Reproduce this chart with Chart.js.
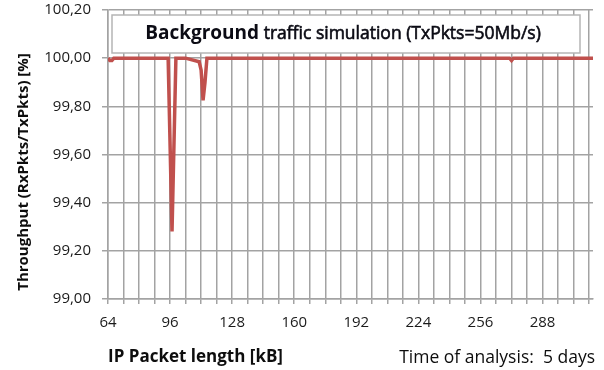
<!DOCTYPE html>
<html>
<head>
<meta charset="utf-8">
<script src="https://cdn.jsdelivr.net/npm/chart.js@4.4.1/dist/chart.umd.min.js"></script>
<style>
  html, body { margin: 0; padding: 0; background: #fff; }
  #wrap { width: 604px; height: 370px; position: relative; }
</style>
</head>
<body>
<div id="wrap"><canvas id="myChart"></canvas></div>
<script>
// packet length (kB) and throughput
var packetLen = [64, 65, 66, 67, 95, 97, 99, 104, 111, 112, 113, 114, 115, 271, 272, 273, 314];
var throughput = [100.00, 99.99, 99.99, 100.00, 100.00, 99.28, 100.00, 100.00, 99.985, 99.95, 99.825, 99.90, 100.00, 100.00, 99.99, 100.00, 100.00];

var xTickLabels = [64, 96, 128, 160, 192, 224, 256, 288];
var yTicks = [99.00, 99.20, 99.40, 99.60, 99.80, 100.00, 100.20];

var chartTitleBold = 'Background';
var chartTitleRest = ' traffic simulation (TxPkts=50Mb/s)';
var yTitle = 'Throughput (RxPkts/TxPkts) [%]';
var note = 'Time of analysis:  5 days';

var FONT = "'Open Sans', sans-serif";
var GRID = '#a3a3a3';

var points = packetLen.map(function (x, i) { return { x: x, y: throughput[i] }; });

// title box inside plot, rotated y title and the note at the bottom right
var extras = {
    id: 'extras',
    afterDraw: function (chart) {
        var ctx = chart.ctx;
        var area = chart.chartArea;
        ctx.save();
        // box
        var bx = area.left + 4, by = 15, bw = 468, bh = 38;
        ctx.fillStyle = '#fff';
        ctx.fillRect(bx, by, bw, bh);
        ctx.strokeStyle = '#b5b5b5';
        ctx.lineWidth = 1.5;
        ctx.strokeRect(bx, by, bw, bh);
        ctx.textBaseline = 'middle';
        ctx.fillStyle = '#0b0b14';
        ctx.font = "bold 19px " + FONT;
        var w1 = ctx.measureText(chartTitleBold).width;
        ctx.font = "17.5px " + FONT;
        var w2 = ctx.measureText(chartTitleRest).width;
        var tx = bx + (bw - w1 - w2) / 2 - 3;
        var ty = by + bh / 2;
        ctx.textAlign = 'left';
        ctx.font = "bold 19px " + FONT;
        ctx.fillText(chartTitleBold, tx, ty);
        ctx.font = "17.5px " + FONT;
        ctx.fillText(chartTitleRest, tx + w1, ty);
        // a bit heavier, like a semibold
        ctx.strokeStyle = '#0b0b14';
        ctx.lineWidth = 0.6;
        ctx.strokeText(chartTitleRest, tx + w1, ty);

        // y axis title
        ctx.save();
        ctx.translate(24, 172);
        ctx.rotate(-Math.PI / 2);
        ctx.textAlign = 'center';
        ctx.font = "bold 15px " + FONT;
        ctx.fillStyle = '#0d0d0d';
        ctx.fillText(yTitle, 0, 0);
        ctx.restore();

        // note
        ctx.textAlign = 'right';
        ctx.font = "17.5px " + FONT;
        ctx.fillStyle = '#0d0d0d';
        ctx.fillText(note, 595, 358);
        ctx.restore();
    }
};

var ctx = document.getElementById('myChart').getContext('2d');
var myChart = new Chart(ctx, {
    type: 'line',
    data: {
        datasets: [{
            label: 'Throughput',
            data: points,
            borderColor: '#c0504d',
            borderWidth: 3.5,
            pointRadius: 0,
            tension: 0,
            fill: false
        }]
    },
    options: {
        responsive: true,
        maintainAspectRatio: false,
        animation: false,
        layout: { padding: { top: 10, right: 11, left: 0, bottom: 0 } },
        plugins: {
            legend: { display: false },
            tooltip: { enabled: false }
        },
        scales: {
            x: {
                type: 'linear',
                min: 64,
                max: 314,
                afterBuildTicks: function (scale) {
                    var t = [];
                    for (var v = 64; v <= 312; v += 8) t.push({ value: v });
                    scale.ticks = t;
                },
                afterFit: function (scale) {
                    scale.height = 71;
                    scale.paddingLeft = 0;
                    scale.paddingRight = 0;
                },
                grid: { color: GRID, lineWidth: 1.5, tickLength: 5 },
                border: { color: GRID, width: 1.5 },
                ticks: {
                    autoSkip: false,
                    maxRotation: 0,
                    padding: 10,
                    color: '#1a1a1a',
                    font: { family: FONT, size: 15 },
                    callback: function (v) { return xTickLabels.indexOf(v) >= 0 ? String(v) : ''; }
                },
                title: {
                    display: true,
                    text: 'IP Packet length [kB]',
                    align: 'start',
                    color: '#0d0d0d',
                    font: { family: FONT, size: 17, weight: 'bold' },
                    padding: { top: 0, bottom: 3 }
                }
            },
            y: {
                min: 99.0,
                max: 100.2,
                afterBuildTicks: function (scale) {
                    scale.ticks = yTicks.map(function (v) { return { value: v }; });
                },
                afterFit: function (scale) {
                    scale.width = 108;
                    scale.paddingTop = 0;
                    scale.paddingBottom = 0;
                },
                grid: { color: GRID, lineWidth: 1.5, tickLength: 6 },
                border: { color: GRID, width: 1.5 },
                ticks: {
                    padding: 11,
                    color: '#1a1a1a',
                    font: { family: FONT, size: 15 },
                    callback: function (v) { return v.toFixed(2).replace('.', ','); }
                }
            }
        }
    },
    plugins: [extras]
});
</script>
</body>
</html>
